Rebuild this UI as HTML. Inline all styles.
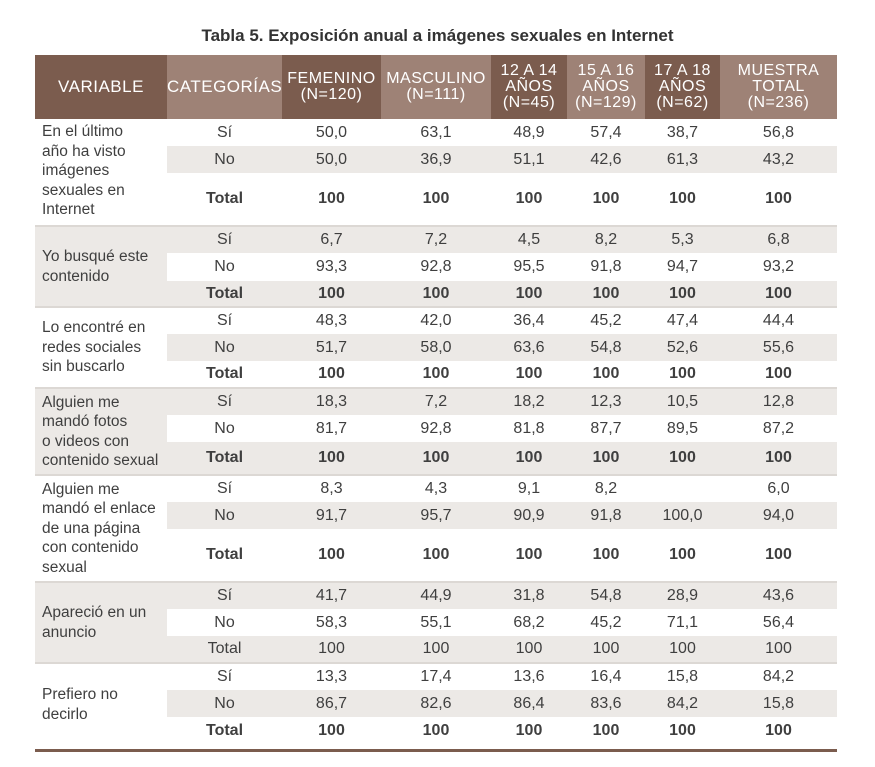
<!DOCTYPE html>
<html><head><meta charset="utf-8"><style>
body{margin:0;background:#fff;width:875px;height:767px;overflow:hidden;font-family:"Liberation Sans Narrow","Liberation Sans",sans-serif;color:#3f3f3f;}
.title{position:absolute;top:26px;left:0;width:875px;text-align:center;font-weight:bold;font-size:17px;color:#333;}
table{position:absolute;left:35px;top:55px;border-collapse:collapse;table-layout:fixed;width:802px;font-size:16px;}
th{color:#fff;font-weight:normal;font-size:16px;line-height:16px;letter-spacing:0.5px;padding:0;height:64px;}
th.d{background:#7b5c4e}th.l{background:#9e8276}
td{padding:0;text-align:center;}
td.v{text-align:left;padding-left:7px;line-height:19.5px;vertical-align:middle;font-size:15.5px}
tr.sep td{border-top:2px solid #dcd8d4;}
.g td,.g td.v{background:#ece9e6}
.g tr.w td:not(.v){background:#fff}
.o tr.s td:not(.v){background:#ece9e6}
b{font-weight:bold}
.bl{position:absolute;left:35px;top:749px;width:802px;height:3px;background:#7b5c4e}
</style></head><body>
<div class="title">Tabla 5. Exposición anual a imágenes sexuales en Internet</div>
<table>
<colgroup><col style="width:132px"><col style="width:115px"><col style="width:99px"><col style="width:110px"><col style="width:76px"><col style="width:78px"><col style="width:75px"><col style="width:117px"></colgroup>
<thead><tr><th class="d" style="font-size:17px">VARIABLE</th><th class="l" style="font-size:17px">CATEGORÍAS</th><th class="d">FEMENINO<br>(N=120)</th><th class="l">MASCULINO<br>(N=111)</th><th class="d">12 A 14<br>AÑOS<br>(N=45)</th><th class="l">15 A 16<br>AÑOS<br>(N=129)</th><th class="d">17 A 18<br>AÑOS<br>(N=62)</th><th class="l">MUESTRA<br>TOTAL<br>(N=236)</th></tr></thead>
<tbody class="o">
<tr style="height:27px"><td class="v" rowspan="3" style="vertical-align:top;padding-top:3px">En el último<br>año ha visto<br>imágenes<br>sexuales en<br>Internet</td><td>Sí</td><td>50,0</td><td>63,1</td><td>48,9</td><td>57,4</td><td>38,7</td><td>56,8</td></tr>
<tr class="s" style="height:27px"><td>No</td><td>50,0</td><td>36,9</td><td>51,1</td><td>42,6</td><td>61,3</td><td>43,2</td></tr>
<tr style="height:53px"><td><b>Total</b></td><td><b>100</b></td><td><b>100</b></td><td><b>100</b></td><td><b>100</b></td><td><b>100</b></td><td><b>100</b></td></tr>
</tbody>
<tbody class="g">
<tr class="sep" style="height:27px"><td class="v" rowspan="3">Yo busqué este<br>contenido</td><td>Sí</td><td>6,7</td><td>7,2</td><td>4,5</td><td>8,2</td><td>5,3</td><td>6,8</td></tr>
<tr class="w" style="height:28px"><td>No</td><td>93,3</td><td>92,8</td><td>95,5</td><td>91,8</td><td>94,7</td><td>93,2</td></tr>
<tr style="height:26px"><td><b>Total</b></td><td><b>100</b></td><td><b>100</b></td><td><b>100</b></td><td><b>100</b></td><td><b>100</b></td><td><b>100</b></td></tr>
</tbody>
<tbody class="o">
<tr class="sep" style="height:27px"><td class="v" rowspan="3">Lo encontré en<br>redes sociales<br>sin buscarlo</td><td>Sí</td><td>48,3</td><td>42,0</td><td>36,4</td><td>45,2</td><td>47,4</td><td>44,4</td></tr>
<tr class="s" style="height:27px"><td>No</td><td>51,7</td><td>58,0</td><td>63,6</td><td>54,8</td><td>52,6</td><td>55,6</td></tr>
<tr style="height:27px"><td><b>Total</b></td><td><b>100</b></td><td><b>100</b></td><td><b>100</b></td><td><b>100</b></td><td><b>100</b></td><td><b>100</b></td></tr>
</tbody>
<tbody class="g">
<tr class="sep" style="height:27px"><td class="v" rowspan="3">Alguien me<br>mandó fotos<br>o videos con<br>contenido sexual</td><td>Sí</td><td>18,3</td><td>7,2</td><td>18,2</td><td>12,3</td><td>10,5</td><td>12,8</td></tr>
<tr class="w" style="height:27px"><td>No</td><td>81,7</td><td>92,8</td><td>81,8</td><td>87,7</td><td>89,5</td><td>87,2</td></tr>
<tr style="height:33px"><td><b>Total</b></td><td><b>100</b></td><td><b>100</b></td><td><b>100</b></td><td><b>100</b></td><td><b>100</b></td><td><b>100</b></td></tr>
</tbody>
<tbody class="o">
<tr class="sep" style="height:27px"><td class="v" rowspan="3">Alguien me<br>mandó el enlace<br>de una página<br>con contenido<br>sexual</td><td>Sí</td><td>8,3</td><td>4,3</td><td>9,1</td><td>8,2</td><td></td><td>6,0</td></tr>
<tr class="s" style="height:27px"><td>No</td><td>91,7</td><td>95,7</td><td>90,9</td><td>91,8</td><td>100,0</td><td>94,0</td></tr>
<tr style="height:53px"><td><b>Total</b></td><td><b>100</b></td><td><b>100</b></td><td><b>100</b></td><td><b>100</b></td><td><b>100</b></td><td><b>100</b></td></tr>
</tbody>
<tbody class="g">
<tr class="sep" style="height:27px"><td class="v" rowspan="3">Apareció en un<br>anuncio</td><td>Sí</td><td>41,7</td><td>44,9</td><td>31,8</td><td>54,8</td><td>28,9</td><td>43,6</td></tr>
<tr class="w" style="height:27px"><td>No</td><td>58,3</td><td>55,1</td><td>68,2</td><td>45,2</td><td>71,1</td><td>56,4</td></tr>
<tr style="height:27px"><td>Total</td><td>100</td><td>100</td><td>100</td><td>100</td><td>100</td><td>100</td></tr>
</tbody>
<tbody class="o">
<tr class="sep" style="height:27px"><td class="v" rowspan="3">Prefiero no<br>decirlo</td><td>Sí</td><td>13,3</td><td>17,4</td><td>13,6</td><td>16,4</td><td>15,8</td><td>84,2</td></tr>
<tr class="s" style="height:27px"><td>No</td><td>86,7</td><td>82,6</td><td>86,4</td><td>83,6</td><td>84,2</td><td>15,8</td></tr>
<tr style="height:28px"><td><b>Total</b></td><td><b>100</b></td><td><b>100</b></td><td><b>100</b></td><td><b>100</b></td><td><b>100</b></td><td><b>100</b></td></tr>
</tbody>
</table>
<div class="bl"></div>
</body></html>
